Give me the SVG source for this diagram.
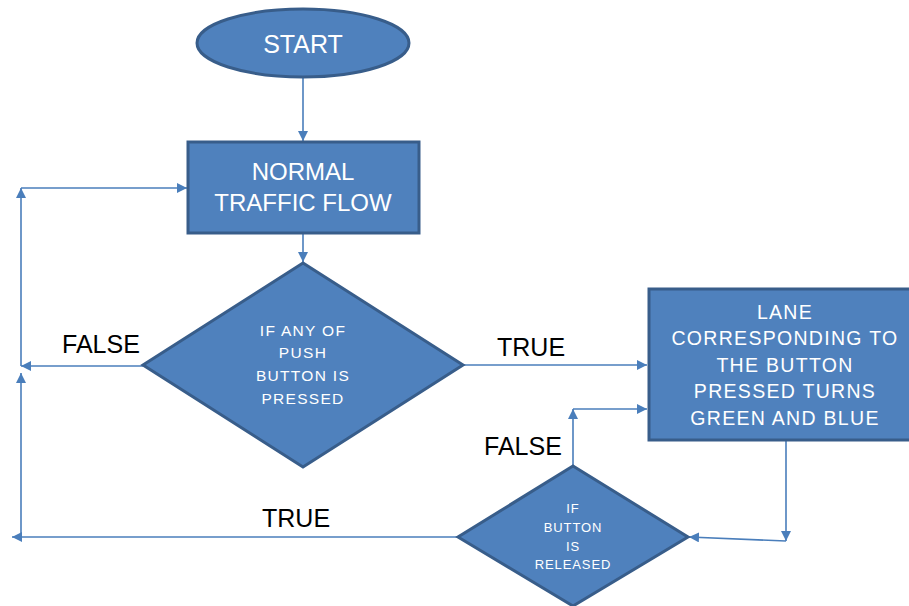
<svg xmlns="http://www.w3.org/2000/svg" width="909" height="606" viewBox="0 0 909 606">
<style>
.shape{fill:#4F81BD;stroke:#385D8A;stroke-width:3}
.wt{fill:#FFFFFF;font-family:"Liberation Sans",Arial,sans-serif;text-anchor:middle}
.lbl{fill:#000000;font-family:"Liberation Sans",Arial,sans-serif;font-size:25px}
.ln{fill:none;stroke:#4A7EBB;stroke-width:1.6}
</style>
<defs>
<marker id="ah" viewBox="0 0 10 10" refX="10" refY="5" markerWidth="10" markerHeight="10" markerUnits="userSpaceOnUse" orient="auto">
<path d="M0,0 L10,5 L0,10 Z" fill="#4A7EBB"/>
</marker>
</defs>
<g id="connectors">
<line class="ln" x1="303" y1="78" x2="303" y2="141" marker-end="url(#ah)"/>
<line class="ln" x1="303" y1="234" x2="303" y2="262" marker-end="url(#ah)"/>
<line class="ln" x1="143" y1="366" x2="21" y2="366" marker-end="url(#ah)"/>
<line class="ln" x1="21" y1="366" x2="21" y2="188" marker-end="url(#ah)"/>
<line class="ln" x1="21" y1="188" x2="187" y2="188" marker-end="url(#ah)"/>
<line class="ln" x1="463" y1="365" x2="647" y2="365" marker-end="url(#ah)"/>
<line class="ln" x1="573" y1="466" x2="573" y2="409" marker-end="url(#ah)"/>
<line class="ln" x1="573" y1="409" x2="647" y2="409" marker-end="url(#ah)"/>
<line class="ln" x1="786" y1="441" x2="786" y2="541" marker-end="url(#ah)"/>
<line class="ln" x1="786" y1="541" x2="689" y2="537" marker-end="url(#ah)"/>
<line class="ln" x1="458" y1="537" x2="12" y2="537" marker-end="url(#ah)"/>
<line class="ln" x1="21" y1="537" x2="21" y2="373" marker-end="url(#ah)"/>
</g>
<g id="start">
<ellipse class="shape" cx="303" cy="43" rx="106" ry="34"/>
<text class="wt" x="303" y="53" font-size="25">START</text>
</g>
<g id="normal-traffic-flow">
<rect class="shape" x="188" y="142" width="231" height="91"/>
<text class="wt" x="303" y="180" font-size="24">NORMAL</text>
<text class="wt" x="303" y="211" font-size="24">TRAFFIC FLOW</text>
</g>
<g id="decision-push-button">
<polygon class="shape" points="303,263 463,365 303,467 143,365"/>
<text class="wt" x="303" y="336" font-size="15.5" letter-spacing="1.3">IF ANY OF</text>
<text class="wt" x="303" y="358" font-size="15.5" letter-spacing="1.3">PUSH</text>
<text class="wt" x="303" y="381" font-size="15.5" letter-spacing="1.3">BUTTON IS</text>
<text class="wt" x="303" y="404" font-size="15.5" letter-spacing="1.3">PRESSED</text>
</g>
<g id="lane-green">
<rect class="shape" x="649" y="289" width="270" height="151"/>
<text class="wt" x="785" y="319" font-size="19.5" letter-spacing="1.3">LANE</text>
<text class="wt" x="785" y="345" font-size="19.5" letter-spacing="1.3">CORRESPONDING TO</text>
<text class="wt" x="785" y="372" font-size="19.5" letter-spacing="1.3">THE BUTTON</text>
<text class="wt" x="785" y="398" font-size="19.5" letter-spacing="1.3">PRESSED TURNS</text>
<text class="wt" x="785" y="425" font-size="19.5" letter-spacing="1.3">GREEN AND BLUE</text>
</g>
<g id="decision-released">
<polygon class="shape" points="573,466 688,537 573,606 458,537"/>
<text class="wt" x="573" y="513" font-size="13" letter-spacing="0.9">IF</text>
<text class="wt" x="573" y="532" font-size="13" letter-spacing="0.9">BUTTON</text>
<text class="wt" x="573" y="551" font-size="13" letter-spacing="0.9">IS</text>
<text class="wt" x="573" y="569" font-size="13" letter-spacing="0.9">RELEASED</text>
</g>
<g id="labels">
<text class="lbl" x="62" y="353">FALSE</text>
<text class="lbl" x="497" y="356">TRUE</text>
<text class="lbl" x="484" y="455">FALSE</text>
<text class="lbl" x="262" y="527">TRUE</text>
</g>
</svg>
